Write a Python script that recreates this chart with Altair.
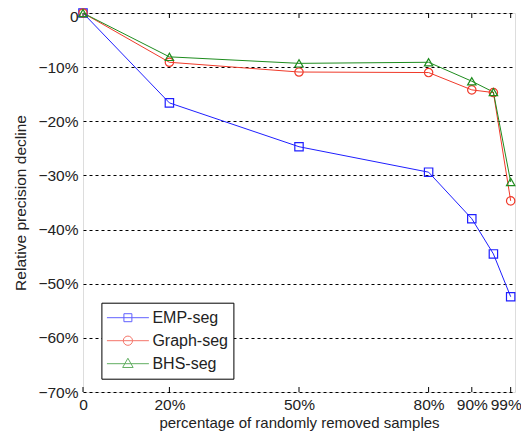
import altair as alt
import pandas as pd

# ---- data ----
x_vals = [0, 20, 50, 80, 90, 95, 99]
emp_seg = [0, -16.6, -24.7, -29.4, -38.0, -44.5, -52.4]
graph_seg = [0, -9.1, -10.9, -11.0, -14.2, -14.7, -34.7]
bhs_seg = [0, -8.1, -9.3, -9.1, -12.6, -14.6, -31.2]
series_names = ["EMP-seg", "Graph-seg", "BHS-seg"]
series_colors = ["#1f1fff", "#f03a2a", "#1e8c1e"]
marker_shapes = ["square", "circle", "triangle-up"]
x_ticks = [0, 20, 50, 80, 90, 99]
y_ticks = [0, -10, -20, -30, -40, -50, -60, -70]

rows = []
for name, vals in zip(series_names, [emp_seg, graph_seg, bhs_seg]):
    for xv, yv in zip(x_vals, vals):
        rows.append({"x": xv, "y": yv, "series": name})
df = pd.DataFrame(rows)
ticks_df = pd.DataFrame({"t": x_ticks})

W, H = 432, 379
FONT = "Liberation Sans"
TXT = "#222222"

# legend symbols: line with marker (unit coords, scaled by sqrt(size)/2)
legend_paths = [
    "M-1,0H1M-0.19,-0.19H0.19V0.19H-0.19Z",
    "M-1,0H1M-0.22,0A0.22,0.22,0,1,1,0.22,0A0.22,0.22,0,1,1,-0.22,0Z",
    "M-1,0H1M0,-0.26L0.25,0.18H-0.25Z",
]

xscale = alt.Scale(domain=[0, 100], nice=False, zero=False)
yscale = alt.Scale(domain=[-70, 0], nice=False)
color_scale = alt.Scale(domain=series_names, range=series_colors)

xaxis = alt.Axis(
    values=x_ticks, labelExpr="datum.value == 0 ? '0' : datum.label + '%'",
    grid=False, domain=False, ticks=False, tickSize=0, labelPadding=5,
    labelFlush=False, labelFontSize=15.5, labelFont=FONT, labelColor=TXT,
    labelOffset={"expr": "datum.value == 99 ? -5 : 0"},
    title="percentage of randomly removed samples", titleFontSize=15,
    titleFont=FONT, titleColor=TXT, titleFontWeight="normal", titlePadding=3,
)
yaxis = alt.Axis(
    values=y_ticks, labelExpr="datum.value == 0 ? '0' : datum.label + '%'",
    grid=True, gridDash=[3, 3], gridColor="black", gridOpacity=1, gridWidth=1,
    domain=False, ticks=False, tickSize=0, labelPadding=5, labelFlush=False,
    labelFontSize=15.5, labelFont=FONT, labelColor=TXT,
    labelOffset={"expr": "datum.value == 0 ? 3 : 0"},
    title="Relative precision decline", titleFontSize=15.5, titleFont=FONT,
    titleColor=TXT, titleFontWeight="normal", titlePadding=9,
)

base = alt.Chart(df)
lines = base.mark_line(strokeWidth=1).encode(
    x=alt.X("x:Q", scale=xscale, axis=xaxis),
    y=alt.Y("y:Q", scale=yscale, axis=yaxis),
    color=alt.Color("series:N", scale=color_scale, legend=None),
    detail="series:N",
)
points = base.mark_point(filled=False, size=70, strokeWidth=1.2, opacity=1).encode(
    x=alt.X("x:Q", scale=xscale),
    y=alt.Y("y:Q", scale=yscale),
    color=alt.Color("series:N", scale=color_scale, legend=None),
    shape=alt.Shape("series:N", scale=alt.Scale(domain=series_names, range=marker_shapes), legend=None),
)

leg = alt.Legend(
    title=None, orient="none", legendX=18.4, legendY=289.7,
    symbolSize=1764, symbolStrokeWidth=1, clipHeight=20, rowPadding=3,
    padding=5, labelFontSize=16, labelFont=FONT, labelColor=TXT, labelOffset=3,
    strokeColor="black", fillColor="white",
)
legend_layer = base.mark_point(filled=False, size=1764).encode(
    color=alt.Color("series:N", scale=alt.Scale(domain=series_names, range=series_colors), legend=leg),
    shape=alt.Shape("series:N", scale=alt.Scale(domain=series_names, range=legend_paths), legend=leg),
).transform_filter("false")

bottom_ticks = alt.Chart(ticks_df).mark_rule(color="black", strokeWidth=1).encode(
    x=alt.X("t:Q", scale=xscale), y=alt.value(H), y2=alt.value(H - 5)
)
top_ticks = alt.Chart(ticks_df).mark_rule(color="black", strokeWidth=1).encode(
    x=alt.X("t:Q", scale=xscale), y=alt.value(0), y2=alt.value(5)
)

chart = alt.layer(bottom_ticks, top_ticks, lines, points, legend_layer).resolve_scale(
    color="independent", shape="independent"
).properties(
    width=W, height=H,
    autosize=alt.AutoSizeParams(type="none"),
    padding={"left": 75, "top": 5, "right": 6, "bottom": 39},
).configure_view(stroke="black", strokeWidth=1.2).configure(background="white")

chart.save("out.html", embed_options={"renderer": "svg", "actions": False})
